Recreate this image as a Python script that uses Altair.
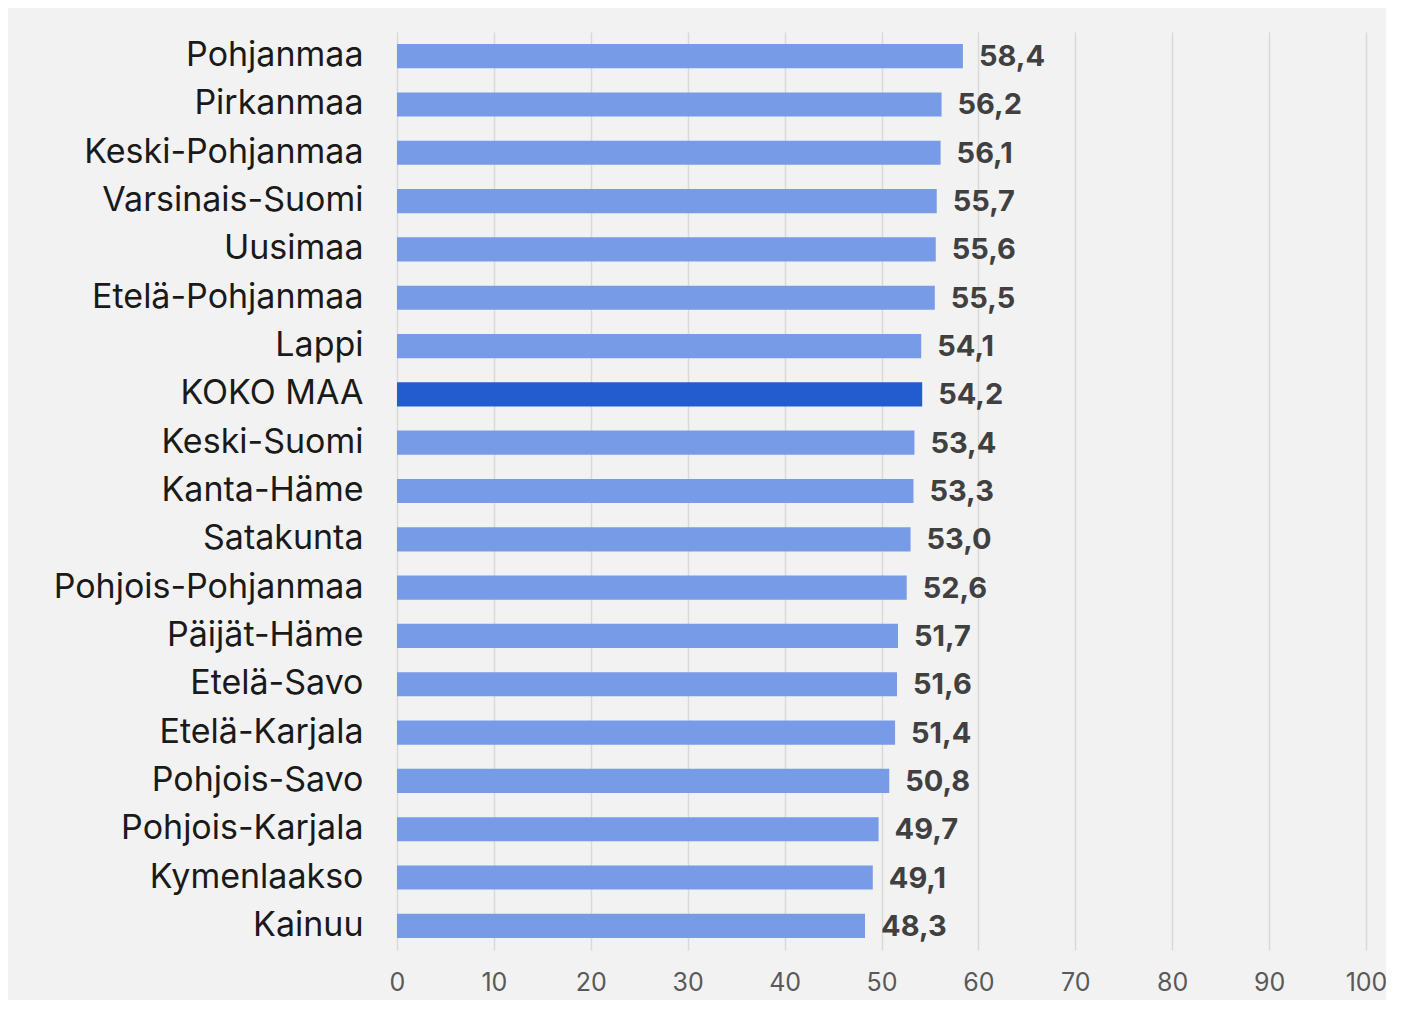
import altair as alt
import pandas as pd

regions = ["Pohjanmaa", "Pirkanmaa", "Keski-Pohjanmaa", "Varsinais-Suomi", "Uusimaa",
           "Etelä-Pohjanmaa", "Lappi", "KOKO MAA", "Keski-Suomi", "Kanta-Häme",
           "Satakunta", "Pohjois-Pohjanmaa", "Päijät-Häme", "Etelä-Savo",
           "Etelä-Karjala", "Pohjois-Savo", "Pohjois-Karjala", "Kymenlaakso", "Kainuu"]
values = [58.4, 56.2, 56.1, 55.7, 55.6, 55.5, 54.1, 54.2, 53.4, 53.3,
          53.0, 52.6, 51.7, 51.6, 51.4, 50.8, 49.7, 49.1, 48.3]
highlight = "KOKO MAA"

df = pd.DataFrame({"region": regions, "value": values})
df["kind"] = ["total" if r == highlight else "region" for r in regions]

FONT = "Inter"

base = alt.Chart(df).encode(
    y=alt.Y("region:N", sort=regions, title=None,
            scale=alt.Scale(paddingInner=0.5, paddingOuter=0.25),
            axis=alt.Axis(labelFontSize=34, labelColor="#1a1a1a", labelFont=FONT,
                          labelPadding=34, ticks=False, domain=False, grid=False,
                          labelLimit=400)),
)

bars = base.mark_bar().encode(
    x=alt.X("value:Q", title=None,
            scale=alt.Scale(domain=[0, 100], nice=False),
            axis=alt.Axis(values=list(range(0, 101, 10)), labelFontSize=25,
                          labelColor="#595959", labelFont=FONT, labelPadding=20,
                          labelFlush=False,
                          ticks=False, domain=False, grid=True,
                          gridColor="#d9d9d9", gridWidth=1.5)),
    color=alt.Color("kind:N", legend=None,
                    scale=alt.Scale(domain=["region", "total"],
                                    range=["#779be7", "#235ccf"])),
)

labels = base.mark_text(align="left", baseline="middle", dx=16, dy=1, fontSize=29,
                        fontWeight="bold", color="#404040", font=FONT).transform_calculate(
    lab="replace(format(datum.value, '.1f'), '.', ',')"
).encode(x="value:Q", text="lab:N")

chart = (bars + labels).properties(
    width=969, height=918,
    background="#f2f2f2",
    padding={"left": 389, "top": 24, "right": 20, "bottom": 50},
    autosize=alt.AutoSizeParams(type="none"),
).configure_view(stroke=None)

chart.save("out.html", embed_options={"renderer": "svg", "actions": False})
